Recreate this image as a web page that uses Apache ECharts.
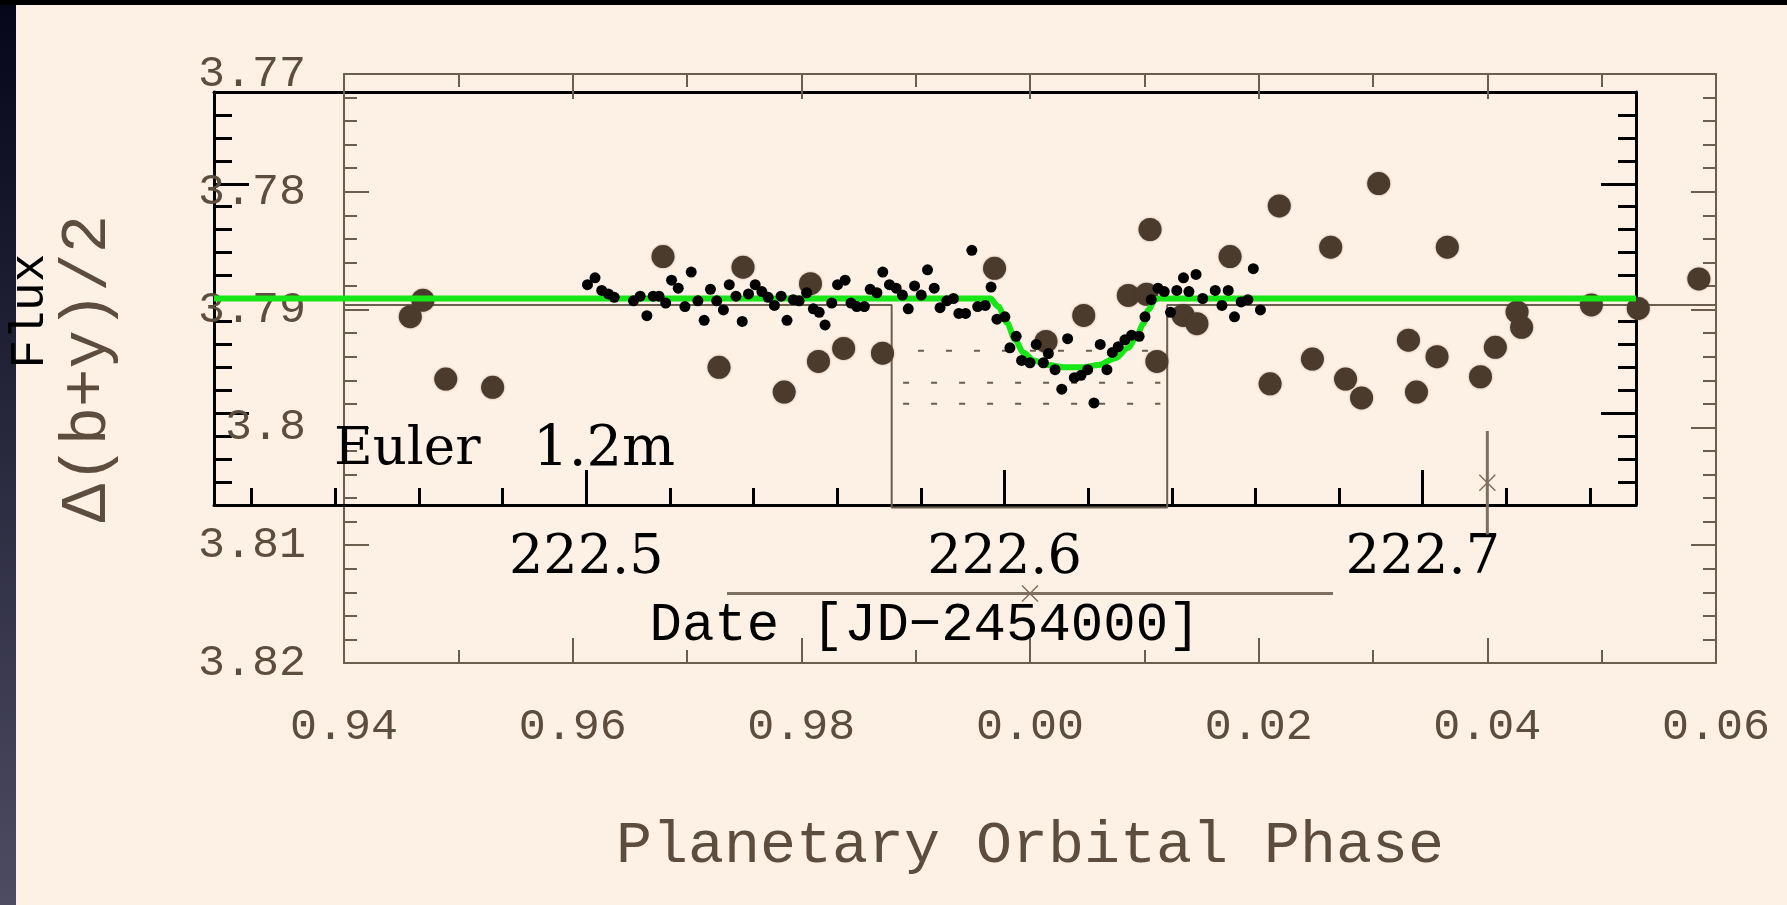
<!DOCTYPE html>
<html>
<head>
<meta charset="utf-8">
<script src="https://cdn.jsdelivr.net/npm/echarts@6/dist/echarts.min.js"></script>
<style>
html, body { margin: 0; padding: 0; background: #fdf0e4; }
#chart { width: 1787px; height: 905px; }
</style>
</head>
<body>
<div id="chart"></div>
<script>
// Euler 1.2m light curve: date [JD-2454000] and relative flux
const eulerDate = [
  222.5003, 222.5021, 222.5037, 222.5053, 222.5067, 222.5113, 222.5129, 222.5145, 222.5160, 222.5174,
  222.5190, 222.5204, 222.5220, 222.5236, 222.5251, 222.5267, 222.5282, 222.5297, 222.5312, 222.5328,
  222.5342, 222.5358, 222.5373, 222.5388, 222.5404, 222.5420, 222.5435, 222.5450, 222.5466, 222.5480,
  222.5495, 222.5509, 222.5527, 222.5543, 222.5557, 222.5571, 222.5587, 222.5601, 222.5619, 222.5633,
  222.5647, 222.5665, 222.5679, 222.5695, 222.5709, 222.5725, 222.5741, 222.5756, 222.5770, 222.5785,
  222.5801, 222.5816, 222.5832, 222.5846, 222.5862, 222.5878, 222.5891, 222.5907, 222.5922, 222.5936,
  222.5954, 222.5968, 222.5982, 222.6001, 222.6013, 222.6028, 222.6041, 222.6061, 222.6076, 222.6093,
  222.6105, 222.6121, 222.6137, 222.6151, 222.6167, 222.6183, 222.6199, 222.6214, 222.6229, 222.6245,
  222.6258, 222.6272, 222.6288, 222.6304, 222.6322, 222.6336, 222.6351, 222.6367, 222.6382, 222.6397,
  222.6412, 222.6428, 222.6441, 222.6458, 222.6474, 222.6504, 222.6520, 222.6535, 222.6550, 222.6566,
  222.6582, 222.6595, 222.6612
];
const eulerFlux = [
  1.0012, 1.0018, 1.0007, 1.0004, 1.0001, 0.9998, 1.0002, 0.9985, 1.0002, 1.0002,
  0.9996, 1.0016, 1.0009, 0.9993, 1.0023, 0.9998, 0.9981, 1.0008, 0.9998, 0.9990,
  1.0012, 1.0002, 0.9980, 1.0004, 1.0012, 1.0006, 1.0001, 0.9994, 1.0002, 0.9981,
  0.9999, 0.9998, 1.0005, 0.9991, 0.9988, 0.9977, 0.9996, 1.0012, 1.0016, 0.9996,
  0.9993, 0.9993, 1.0008, 1.0005, 1.0023, 1.0012, 1.0009, 1.0003, 0.9991, 1.0011,
  1.0003, 1.0025, 1.0009, 0.9992, 0.9998, 1.0000, 0.9987, 0.9987, 1.0042, 0.9993,
  0.9994, 1.0010, 0.9982, 0.9984, 0.9957, 0.9967, 0.9946, 0.9944, 0.9960, 0.9944,
  0.9952, 0.9938, 0.9921, 0.9965, 0.9931, 0.9933, 0.9938, 0.9909, 0.9960, 0.9938,
  0.9953, 0.9958, 0.9964, 0.9968, 0.9967, 0.9984, 0.9999, 1.0009, 1.0006, 0.9988,
  1.0007, 1.0018, 1.0006, 1.0021, 1.0000, 1.0007, 0.9994, 1.0007, 0.9984, 0.9997,
  0.9999, 1.0026, 0.9990
];

// Fitted transit model for the Euler light curve
const modelDate = [222.411, 222.5966, 222.5985, 222.6006, 222.6025, 222.6045, 222.6070, 222.6105, 222.6145,
  222.6185, 222.6225, 222.6265, 222.6296, 222.6316, 222.6332, 222.6344, 222.6360, 222.6368, 222.751];
const modelFlux = [1.0000, 1.0000, 0.9993, 0.9979, 0.9964, 0.9953, 0.9946, 0.9942, 0.9940,
  0.9940, 0.9942, 0.9948, 0.9957, 0.9967, 0.9978, 0.9990, 0.9999, 1.0000, 1.0000];

// Strömgren photometry: orbital phase and delta(b+y)/2
const orbitalPhase = [-0.0542, -0.0531, -0.0511, -0.0470, -0.0321, -0.0272, -0.0251, -0.0215, -0.0192, -0.0185,
  -0.0163, -0.0129, -0.0031, 0.0014, 0.0047, 0.0086, 0.0102, 0.0105, 0.0111, 0.0134,
  0.0146, 0.0175, 0.0210, 0.0218, 0.0247, 0.0263, 0.0276, 0.0290, 0.0305, 0.0331,
  0.0338, 0.0356, 0.0365, 0.0394, 0.0407, 0.0426, 0.0430, 0.0491, 0.0532, 0.0585];
const deltaBY = [3.7906, 3.7892, 3.7959, 3.7966, 3.7855, 3.7949, 3.7864, 3.7970, 3.7878, 3.7944,
  3.7933, 3.7937, 3.7865, 3.7927, 3.7905, 3.7888, 3.7887, 3.7832, 3.7944, 3.7905,
  3.7912, 3.7855, 3.7963, 3.7812, 3.7942, 3.7847, 3.7959, 3.7975, 3.7793, 3.7926,
  3.7970, 3.7940, 3.7847, 3.7957, 3.7932, 3.7902, 3.7915, 3.7896, 3.7899, 3.7874];

// Box-shaped transit window and the expected depth levels
const boxPhase = [-0.06, -0.0121, -0.0121, 0.0120, 0.0120, 0.06];
const boxDelta = [3.7896, 3.7896, 3.8068, 3.8068, 3.7896, 3.7896];
const depthLevel = [3.7935, 3.7962, 3.7980];
const depthStart = [-0.0098, -0.0111, -0.0111];
const depthEnd = [0.0114, 0.0114, 0.0114];

// Typical error bars: phase uncertainty and photometric uncertainty
const errCenterPhase = [0.0, 0.04];
const errCenterDelta = [3.8141, 3.8047];
const errHalfPhase = [0.0265, 0.0];
const errHalfDelta = [0.0, 0.0044];

// Tick positions of the Euler axes
const dateMinorTicks = [222.42, 222.44, 222.46, 222.48, 222.50, 222.52, 222.54, 222.56, 222.58,
  222.60, 222.62, 222.64, 222.66, 222.68, 222.70, 222.72, 222.74];
const dateMajorTicks = [222.5, 222.6, 222.7];
const fluxMinorTicks = [0.984, 0.986, 0.988, 0.990, 0.992, 0.994, 0.996, 0.998, 1.000,
  1.002, 1.004, 1.006, 1.008, 1.010, 1.012, 1.014, 1.016];
const fluxMajorTicks = [0.99, 1.00, 1.01];

const zip = (a, b) => a.map((v, i) => [v, b[i]]);

const BG = '#fdf0e4';
const BROWN_TEXT = '#5c4d3e';
const BROWN_LINE = '#6c5e4e';
const BROWN_DOT = '#4a3b2c';
const GREEN = '#17e617';
const MONO = '"Liberation Mono", "DejaVu Sans Mono", monospace';
const SERIF = '"DejaVu Serif", "Liberation Serif", serif';

const noSplit = { splitLine: { show: false }, minorSplitLine: { show: false } };

const phaseLabel = v => {
  const p = v < -1e-9 ? 1 + v : Math.abs(v);
  return p.toFixed(2);
};
const deltaLabel = v => String(+v.toFixed(2));

function phaseAxis(position, withLabels) {
  return Object.assign({
    gridIndex: 0, type: 'value', position: position,
    min: -0.06, max: 0.06, interval: 0.02,
    axisLine: { show: true, onZero: false, lineStyle: { color: BROWN_LINE, width: 2 } },
    axisTick: { show: true, inside: true, length: 25, lineStyle: { color: BROWN_LINE, width: 2 } },
    minorTick: { show: true, splitNumber: 2, length: 13, lineStyle: { color: BROWN_LINE, width: 2 } },
    axisLabel: withLabels ? {
      show: true, margin: 42, formatter: phaseLabel,
      fontFamily: MONO, fontSize: 45, color: BROWN_TEXT, lineHeight: 45
    } : { show: false }
  }, noSplit);
}

function deltaAxis(position, withLabels) {
  return Object.assign({
    gridIndex: 0, type: 'value', position: position, inverse: true,
    min: 3.77, max: 3.82, interval: 0.01,
    axisLine: { show: true, onZero: false, lineStyle: { color: BROWN_LINE, width: 2 } },
    axisTick: { show: true, inside: true, length: 25, lineStyle: { color: BROWN_LINE, width: 2 } },
    minorTick: { show: true, splitNumber: 5, length: 13, lineStyle: { color: BROWN_LINE, width: 2 } },
    axisLabel: withLabels ? {
      show: true, margin: 38, formatter: deltaLabel,
      fontFamily: MONO, fontSize: 45, color: BROWN_TEXT
    } : { show: false }
  }, noSplit);
}

function dateAxis(extra) {
  return Object.assign({
    gridIndex: 1, type: 'value', min: 222.411, max: 222.751,
    axisLine: { show: false, onZero: false }, axisTick: { show: false }, axisLabel: { show: false }
  }, noSplit, extra);
}

function fluxAxis(extra) {
  return Object.assign({
    gridIndex: 1, type: 'value', min: 0.982, max: 1.018,
    axisLine: { show: false, onZero: false }, axisTick: { show: false }, axisLabel: { show: false }
  }, noSplit, extra);
}

const blackLine = { show: true, onZero: false, lineStyle: { color: '#000', width: 3 } };
const tick = (len, values) => ({
  show: true, inside: true, length: len, customValues: values,
  lineStyle: { color: '#000', width: 3 }
});

const xAxis = [
  Object.assign(phaseAxis('bottom', true), {
    name: 'Planetary Orbital Phase', nameLocation: 'middle', nameGap: 153, nameMoveOverlap: false,
    nameTextStyle: { fontFamily: MONO, fontSize: 60, color: BROWN_TEXT, lineHeight: 60 }
  }),
  phaseAxis('top', false),
  dateAxis({ position: 'bottom', axisLine: blackLine, axisTick: tick(17, dateMinorTicks) }),
  dateAxis({
    position: 'bottom', axisTick: tick(35, dateMajorTicks),
    axisLabel: {
      show: true, customValues: dateMajorTicks, margin: 27, formatter: v => v.toFixed(1),
      fontFamily: SERIF, fontSize: 54, color: '#000', lineHeight: 54
    },
    name: 'Date [JD\u22122454000]', nameLocation: 'middle', nameGap: 94, nameMoveOverlap: false,
    nameTextStyle: { fontFamily: MONO, fontSize: 54, color: '#000', lineHeight: 54 }
  }),
  dateAxis({ position: 'top', axisLine: blackLine })
];

const yAxis = [
  Object.assign(deltaAxis('left', true), {
    name: '\u0394(b+y)/2', nameLocation: 'middle', nameRotate: 90, nameGap: 224, nameMoveOverlap: false,
    nameTextStyle: { fontFamily: MONO, fontSize: 64, color: BROWN_TEXT, lineHeight: 64 }
  }),
  deltaAxis('right', false),
  fluxAxis({ position: 'left', axisLine: blackLine, axisTick: tick(18, fluxMinorTicks) }),
  fluxAxis({ position: 'left', axisTick: tick(35, fluxMajorTicks) }),
  fluxAxis({ position: 'right', axisLine: blackLine, axisTick: tick(18, fluxMinorTicks) }),
  fluxAxis({ position: 'right', axisTick: tick(35, fluxMajorTicks) })
];

const series = [];

// box transit window on the phase plot
series.push({
  type: 'line', xAxisIndex: 0, yAxisIndex: 0, data: zip(boxPhase, boxDelta),
  symbol: 'none', lineStyle: { color: BROWN_LINE, width: 2 }, z: 2, silent: true
});

// dotted depth levels inside the window
depthLevel.forEach((lvl, i) => {
  series.push({
    type: 'line', xAxisIndex: 0, yAxisIndex: 0,
    data: [[depthStart[i], lvl], [depthEnd[i], lvl]],
    symbol: 'none', lineStyle: { color: BROWN_LINE, width: 2, type: [6, 22] }, z: 2, silent: true
  });
});

// error bars and their centre crosses
errCenterPhase.forEach((p, i) => {
  const d = errCenterDelta[i];
  const seg = errHalfPhase[i] > 0
    ? [[p - errHalfPhase[i], d], [p + errHalfPhase[i], d]]
    : [[p, d - errHalfDelta[i]], [p, d + errHalfDelta[i]]];
  series.push({
    type: 'line', xAxisIndex: 0, yAxisIndex: 0, data: seg,
    symbol: 'none', lineStyle: { color: '#7d6e5f', width: 3 }, z: 2, silent: true
  });
});
series.push({
  type: 'scatter', xAxisIndex: 0, yAxisIndex: 0, data: zip(errCenterPhase, errCenterDelta),
  symbol: 'path://M0,0L10,10M10,0L0,10', symbolSize: 16,
  itemStyle: { color: 'none', borderColor: '#7d6e5f', borderWidth: 1.5, opacity: 1 }, z: 3, silent: true
});

// phase-folded photometry
series.push({
  type: 'scatter', xAxisIndex: 0, yAxisIndex: 0, data: zip(orbitalPhase, deltaBY),
  symbol: 'circle', symbolSize: 23,
  itemStyle: { color: BROWN_DOT, opacity: 1, shadowColor: 'rgba(74,59,44,0.5)', shadowBlur: 2 }, z: 3, silent: true
});

// transit model for the Euler data
series.push({
  type: 'line', xAxisIndex: 2, yAxisIndex: 2, data: zip(modelDate, modelFlux),
  symbol: 'none', smooth: 0.3, smoothMonotone: 'x',
  lineStyle: { color: GREEN, width: 6 }, z: 5, silent: true
});

// Euler 1.2m photometry
series.push({
  type: 'scatter', xAxisIndex: 2, yAxisIndex: 2, data: zip(eulerDate, eulerFlux),
  symbol: 'circle', symbolSize: 11, itemStyle: { color: '#000', opacity: 1 }, z: 6, silent: true
});

const option = {
  backgroundColor: BG,
  animation: false,
  grid: [
    { left: 344, top: 74, width: 1372, height: 589, containLabel: false, outerBoundsMode: 'none' },
    { left: 214, top: 92, width: 1422, height: 413, containLabel: false, outerBoundsMode: 'none' }
  ],
  xAxis: xAxis,
  yAxis: yAxis,
  series: series,
  graphic: [
    {
      type: 'rect', left: 0, top: 0, z: 100,
      shape: { width: 16, height: 905 },
      style: {
        fill: new echarts.graphic.LinearGradient(0, 0, 0, 1, [
          { offset: 0, color: '#06061a' }, { offset: 1, color: '#4d4c62' }
        ])
      }
    },
    { type: 'rect', left: 0, top: 0, z: 100, shape: { width: 1787, height: 5 }, style: { fill: '#000' } },
    {
      type: 'text', x: 30, y: 311, rotation: Math.PI / 2, z: 101,
      style: { text: 'Flux', fontFamily: MONO, fontSize: 48, fill: '#000', align: 'center', verticalAlign: 'middle' }
    },
    {
      type: 'text', x: 334, y: 450, z: 101,
      style: { text: 'Euler', fontFamily: SERIF, fontSize: 53, fill: '#000', align: 'left', verticalAlign: 'middle' }
    },
    {
      type: 'text', x: 533, y: 450, z: 101,
      style: { text: '1.2m', fontFamily: SERIF, fontSize: 56, fill: '#000', align: 'left', verticalAlign: 'middle' }
    }
  ]
};

const chart = echarts.init(document.getElementById('chart'), null, { renderer: 'canvas' });
chart.setOption(option);
</script>
</body>
</html>
